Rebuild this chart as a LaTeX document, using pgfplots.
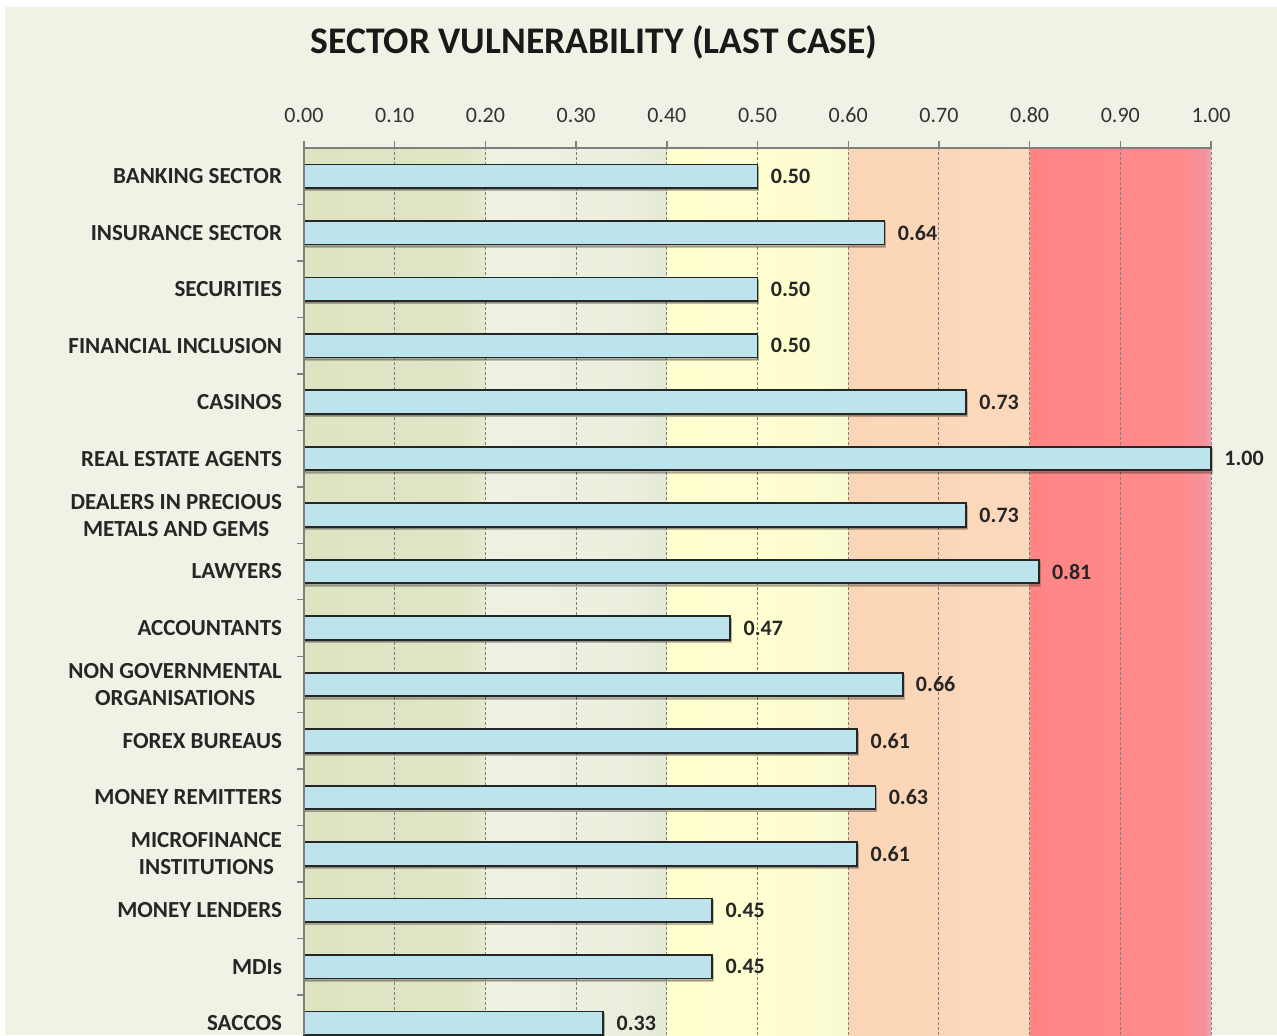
\documentclass[border=0pt]{standalone}
\usepackage{pgfplots}
\pgfplotsset{compat=1.18}
\usepackage{fontspec}
\setmainfont{Carlito}
\usetikzlibrary{shadows,calc}
\definecolor{panel}{HTML}{EFF2E4}
\definecolor{barblue}{HTML}{BDE3EC}
\definecolor{bA}{HTML}{DCE4C1}
\definecolor{bAb}{HTML}{DFE6C6}
\definecolor{bAc}{HTML}{E4EACF}
\definecolor{bB}{HTML}{EEF2E3}
\definecolor{bBb}{HTML}{EBEFDE}
\definecolor{bBc}{HTML}{E4E9D6}
\definecolor{bC}{HTML}{FFFFD0}
\definecolor{bCb}{HTML}{FDFDD0}
\definecolor{bCc}{HTML}{F8F9D3}
\definecolor{bD}{HTML}{FBD6B6}
\definecolor{bDb}{HTML}{FBD8BA}
\definecolor{bDc}{HTML}{FAD9BE}
\definecolor{bE}{HTML}{FF8585}
\definecolor{bEb}{HTML}{FF8A8A}
\definecolor{bEc}{HTML}{F8909A}
\definecolor{bEd}{HTML}{EDA5AB}
\definecolor{axgray}{HTML}{7F7F7F}
\pgfdeclarehorizontalshading{bands}{100bp}{color(0bp)=(bA); color(25bp)=(bA); color(33.5bp)=(bAb); color(34.95bp)=(bAc); color(35bp)=(bB); color(43bp)=(bBb); color(44.95bp)=(bBc); color(45bp)=(bC); color(53bp)=(bCb); color(54.95bp)=(bCc); color(55bp)=(bD); color(63bp)=(bDb); color(64.95bp)=(bDc); color(65bp)=(bE); color(73bp)=(bEb); color(74.6bp)=(bEc); color(75bp)=(bEd); color(100bp)=(bEd)}
\begin{document}
\begin{tikzpicture}
\fill[white] (0,0) rectangle (638.5pt,-517.5pt);
\fill[panel] (2.5pt,-3.5pt) rectangle (638.5pt,-517.5pt);
\node[font=\fontsize{18.8}{22}\selectfont\bfseries, text=black!90] at (297pt,-21pt) {SECTOR VULNERABILITY (LAST CASE)};
\begin{axis}[
  name=ax,
  at={(152pt,-74pt)}, anchor=north west,
  scale only axis, width=453.5pt, height=443.5pt,
  xbar, bar width=11.75pt,
  xmin=0, xmax=1, ymin=-0.208, ymax=15.5,
  clip=false,
  axis x line*=top, axis y line*=left,
  axis line style={draw=axgray, line width=0.7pt},
  tick align=outside, major tick length=3.5pt,
  tick style={draw=axgray, line width=0.7pt},
  xtick={0,0.1,0.2,0.3,0.4,0.5,0.6,0.7,0.8,0.9,1},
  /pgf/number format/.cd, fixed, fixed zerofill, precision=2, assume math mode=true, /pgfplots/.cd,
  xticklabel style={font=\fontsize{11}{13}\selectfont, text=black!80, yshift=5.5pt},
  xmajorgrids,
  grid style={draw=axgray, dash pattern=on 1.5pt off 1pt, line width=0.5pt},
  ytick={0.5,1.5,...,14.5}, yticklabels={},
  extra y ticks={0,1,2,3,4,5,6,7,8,9,10,11,12,13,14,15},
  extra y tick labels={SACCOS, MDIs, MONEY LENDERS, {MICROFINANCE\\INSTITUTIONS}, MONEY REMITTERS, FOREX BUREAUS, {NON GOVERNMENTAL\\ORGANISATIONS}, ACCOUNTANTS, LAWYERS, {DEALERS IN PRECIOUS\\METALS AND GEMS}, REAL ESTATE AGENTS, CASINOS, FINANCIAL INCLUSION, SECURITIES, INSURANCE SECTOR, BANKING SECTOR},
  extra y tick style={tick style={draw=none}},
  yticklabel style={font=\fontsize{11.5}{13.5}\selectfont\bfseries, align=center, text=black!85, xshift=-4pt},
  axis background/.style={shading=bands},
  nodes near coords,
  nodes near coords style={font=\fontsize{11}{13}\selectfont\bfseries, text=black!85, xshift=2.9pt},
]
\addplot[fill=barblue, draw=black!85, line width=0.9pt,
  drop shadow={shadow xshift=0.5pt, shadow yshift=-1.2pt, opacity=0.25, fill=black}]
  coordinates {
  (0.33,0) (0.45,1) (0.45,2) (0.61,3) (0.63,4) (0.61,5) (0.66,6) (0.47,7)
  (0.81,8) (0.73,9) (1.00,10) (0.73,11) (0.50,12) (0.50,13) (0.64,14) (0.50,15)
  };
\end{axis}
\draw[axgray, line width=0.7pt] (ax.north west) -- (ax.north east);
\draw[axgray, line width=0.7pt] (ax.north west) -- (ax.south west);
\foreach \i in {0,...,10}
  \draw[axgray, line width=0.7pt] ($(ax.north west)!\i/10!(ax.north east)$) -- ++(0,3.5pt);
\pgfresetboundingbox
\path[use as bounding box] (0,0) rectangle (638.5pt,-517.5pt);
\end{tikzpicture}
\end{document}
